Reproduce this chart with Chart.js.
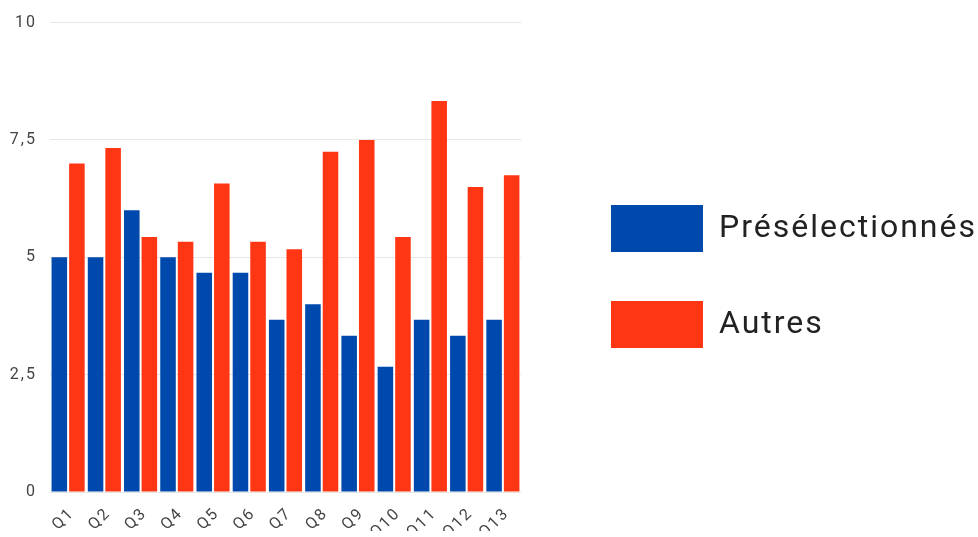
<!DOCTYPE html>
<html>
<head>
<meta charset="utf-8">
<script src="https://cdn.jsdelivr.net/npm/chart.js@4.4.1/dist/chart.umd.min.js"></script>
<style>
    html, body { margin: 0; padding: 0; background: #fff; }
    #wrap { width: 978px; height: 537px; }
</style>
</head>
<body>
<div id="wrap"><canvas id="barchart"></canvas></div>
<script>
// Chart data
const categories = ['Q1', 'Q2', 'Q3', 'Q4', 'Q5', 'Q6', 'Q7', 'Q8', 'Q9', 'Q10', 'Q11', 'Q12', 'Q13'];
const preselectionnes = [5, 5, 6, 5, 4.67, 4.67, 3.67, 4, 3.33, 2.67, 3.67, 3.33, 3.67];
const autres = [7, 7.33, 5.43, 5.33, 6.57, 5.33, 5.17, 7.25, 7.5, 5.43, 8.33, 6.5, 6.75];
const yTicks = [0, 2.5, 5, 7.5, 10];

document.addEventListener("DOMContentLoaded", function() {
    // the reference text is slightly spaced out
    const letterSpacing = {
        id: 'letterSpacing',
        beforeUpdate: function(chart) { chart.ctx.letterSpacing = '2px'; },
        beforeDraw: function(chart) { chart.ctx.letterSpacing = '2px'; }
    };

    const config = {
        type: 'bar',
        data: {
            labels: categories,
            datasets: [{
                label: 'Présélectionnés',
                data: preselectionnes,
                backgroundColor: '#0049ac'
            }, {
                label: 'Autres',
                data: autres,
                backgroundColor: '#ff3614'
            }]
        },
        options: {
            responsive: true,
            maintainAspectRatio: false,
            animation: false,
            categoryPercentage: 0.97,
            barPercentage: 0.885,
            layout: {
                padding: { top: 22, bottom: 6, left: 0, right: -9 }
            },
            scales: {
                x: {
                    grid: { display: false, drawTicks: false },
                    border: { display: false },
                    ticks: {
                        color: '#444',
                        font: { family: 'Roboto', size: 16 },
                        minRotation: 45,
                        maxRotation: 45,
                        labelOffset: 4,
                        padding: 12
                    },
                    afterFit: function(scale) { scale.height = 39; }
                },
                y: {
                    min: 0,
                    max: 10,
                    grid: { color: '#e6e6e6', drawTicks: false },
                    border: { display: false },
                    ticks: {
                        color: '#444',
                        font: { family: 'Roboto', size: 16 },
                        padding: 13,
                        callback: function(value) { return String(value).replace('.', ','); }
                    },
                    afterBuildTicks: function(scale) {
                        scale.ticks = yTicks.map(v => ({ value: v }));
                    },
                    afterFit: function(scale) { scale.width = 50; }
                },
                // empty space between the plot and the legend
                gap: {
                    type: 'linear',
                    position: 'right',
                    grid: { display: false },
                    border: { display: false },
                    ticks: { display: false },
                    afterFit: function(scale) { scale.width = 41; }
                }
            },
            plugins: {
                legend: {
                    position: 'right',
                    maxWidth: 600,
                    labels: {
                        boxWidth: 92,
                        boxHeight: 47,
                        padding: 49,
                        color: '#222',
                        font: { family: 'Roboto', size: 32 }
                    }
                },
                tooltip: { enabled: false }
            }
        },
        plugins: [letterSpacing]
    };

    const ctx = document.getElementById('barchart');
    new Chart(ctx, config);
});
</script>
</body>
</html>
